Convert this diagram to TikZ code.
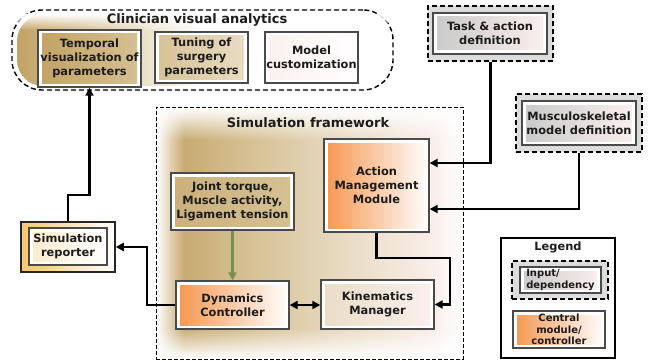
\documentclass[tikz,border=0pt]{standalone}
\usepackage{fontspec}
\setmainfont{DejaVu Sans}
\usetikzlibrary{arrows.meta,fadings}

\definecolor{tanD}{HTML}{C2A264}
\definecolor{tanM}{HTML}{D6C194}
\definecolor{tanL}{HTML}{E9DDC6}
\definecolor{blush}{HTML}{FBF0EE}
\definecolor{orng}{HTML}{F5964F}
\definecolor{gold}{HTML}{F6C66E}
\definecolor{edge}{HTML}{4A4A4A}
\definecolor{ink}{HTML}{1C1C1C}
\definecolor{olive}{HTML}{7A8C50}
\definecolor{grayD}{HTML}{C9C9C9}
\definecolor{grayL}{HTML}{DCDCDC}

% soft white edges for the framework glow
\tikzfading[name=solidleft, left color=transparent!0, right color=transparent!100]
\tikzfading[name=solidright, left color=transparent!100, right color=transparent!0]
\tikzfading[name=solidtop, top color=transparent!0, bottom color=transparent!100]
\tikzfading[name=solidbottom, top color=transparent!100, bottom color=transparent!0]

\pgfdeclarehorizontalshading{simglow}{100bp}{color(0bp)=(tanD); color(25bp)=(tanD); color(40bp)=(tanM); color(57bp)=(tanL); color(72bp)=(blush); color(100bp)=(blush)}
\pgfdeclarehorizontalshading{clinglow}{100bp}{color(0bp)=(tanD); color(25bp)=(tanD); color(34bp)=(tanM); color(50bp)=(white); color(100bp)=(white)}

\tikzset{
  txt/.style={font=\fontsize{11.4}{14}\selectfont\bfseries, text=ink, align=center, inner sep=0pt},
  smalltxt/.style={font=\fontsize{10}{12.5}\selectfont\bfseries},
  ttl/.style={font=\fontsize{13}{15}\selectfont\bfseries, text=ink, inner sep=0pt},
  box/.style n args={4}{draw=edge, line width=1.3pt, fill=white, minimum width=#1, minimum height=#2, txt,
    path picture={\shade[left color=#3, right color=#4]
      ([shift={(4pt,-4pt)}]path picture bounding box.north west) rectangle
      ([shift={(-4pt,4pt)}]path picture bounding box.south east);}},
  dashbox/.style 2 args={draw=black, line width=1.8pt, dash pattern=on 5pt off 3pt, fill=grayL,
    minimum width=#1, minimum height=#2, inner sep=0pt},
  wire/.style={line width=2.2pt, draw=black},
  arr/.style={-{Triangle[length=8pt,width=8pt]}},
  twoarr/.style={{Triangle[length=8pt,width=8pt]}-{Triangle[length=8pt,width=8pt]}},
}

\begin{document}
\begin{tikzpicture}[x=1pt,y=-1pt]
\useasboundingbox (0,0) rectangle (650,361);

% ---------------- Clinician visual analytics panel
\node[minimum width=381pt, minimum height=80pt, inner sep=0pt, rounded corners=30pt,
      draw=black, line width=1.4pt, dash pattern=on 5pt off 3pt, fill=white] (clin) at (202.5,50) {};
\path[shading=clinglow, rounded corners=26pt] (17,15) rectangle (388,86);
\fill[white, path fading=solidtop] (17,14) rectangle (388,30);
\node[ttl] (clintitle) at (197,20) {Clinician visual analytics};

\node[box={103pt}{57pt}{tanD}{tanM}] (temporal) at (89.5,58.5) {Temporal\\visualization of\\parameters};
\node[box={93pt}{51pt}{tanM}{tanL}] (tuning) at (201.5,57.5) {Tuning of\\surgery\\parameters};
\node[box={93pt}{51pt}{blush}{white}] (custom) at (311.5,57.5) {Model\\customization};

% ---------------- Simulation framework panel
\path[shading=simglow] (158,109) rectangle (461,357);
\fill[white, path fading=solidleft] (157,108) rectangle (184,358);
\fill[white, path fading=solidright] (434,108) rectangle (462,358);
\fill[white, path fading=solidtop] (157,108) rectangle (462,140);
\fill[white, path fading=solidbottom] (157,328) rectangle (462,358);
\node[minimum width=307pt, minimum height=252pt, inner sep=0pt, draw=black, line width=1pt,
      dash pattern=on 4pt off 2pt] (simfw) at (309.5,233) {};
\node[ttl] (simtitle) at (308,123) {Simulation framework};

\node[box={105pt}{93pt}{orng}{white}] (amm) at (376.5,185.5) {Action\\Management\\Module};
\node[box={123pt}{57pt}{tanD!85!white}{tanM}] (joint) at (232.5,201.5) {Joint torque,\\Muscle activity,\\Ligament tension};
\node[box={113pt}{48pt}{orng}{white}] (dyn) at (232.5,305) {Dynamics\\Controller};
\node[box={113pt}{49pt}{tanL}{blush}] (kin) at (377.5,304.5) {Kinematics\\Manager};

% ---------------- Inputs
\node[dashbox={125pt}{55pt}] (taskout) at (490.5,33.5) {};
\node[box={114pt}{41pt}{grayD}{blush}] (task) at (490,33.5) {Task \& action\\definition};
\node[dashbox={126pt}{58pt}] (muscout) at (579,123) {};
\node[box={114pt}{44pt}{grayD}{blush}] (musc) at (579,123) {Musculoskeletal\\model definition};

% ---------------- Simulation reporter
\node[minimum width=94pt, minimum height=50pt, inner sep=0pt, draw=black!85, line width=1.5pt,
      left color=gold, right color=white] (repout) at (68,247) {};
\node[box={78pt}{37pt}{gold!35!white}{white}] (rep) at (68,246.5) {Simulation\\reporter};

% ---------------- Legend
\node[minimum width=114pt, minimum height=120pt, inner sep=0pt, draw=black, line width=2pt,
      fill=white] (legend) at (558,298) {};
\node[txt] (legtitle) at (558,247) {Legend};
\node[dashbox={96pt}{38pt}] (legin) at (560,280) {};
\node[box={81pt}{26pt}{grayD}{blush}, smalltxt, align=left] (leginbox) at (560.5,280) {Input/\\dependency};
\node[box={92pt}{37pt}{orng}{white}, smalltxt, font=\fontsize{10}{11.5}\selectfont\bfseries] (legcore) at (559,329.5) {Central\\module/\\controller};

% ---------------- Connectors
\coordinate (rb) at (68,195);
\coordinate (db) at (147,247);
\coordinate (kb) at (450,258);

\draw[wire, arr] (taskout.south) |- ([yshift=22.5pt]amm.east);
\draw[wire, arr] (muscout.south) |- ([yshift=-23.5pt]amm.east);
\draw[wire, arr] (amm.south) |- (kb) |- (kin.east);
\draw[wire, twoarr] (dyn.east) -- (kin.west |- dyn.east);
\draw[wire, draw=olive, fill=olive, arr] (joint.south) -- (dyn.north);
\draw[wire, arr] (dyn.west) -| (db) -- (repout.east |- db);
\draw[wire, arr] (repout.north) -- (rb) -| (temporal.south);
\end{tikzpicture}
\end{document}
